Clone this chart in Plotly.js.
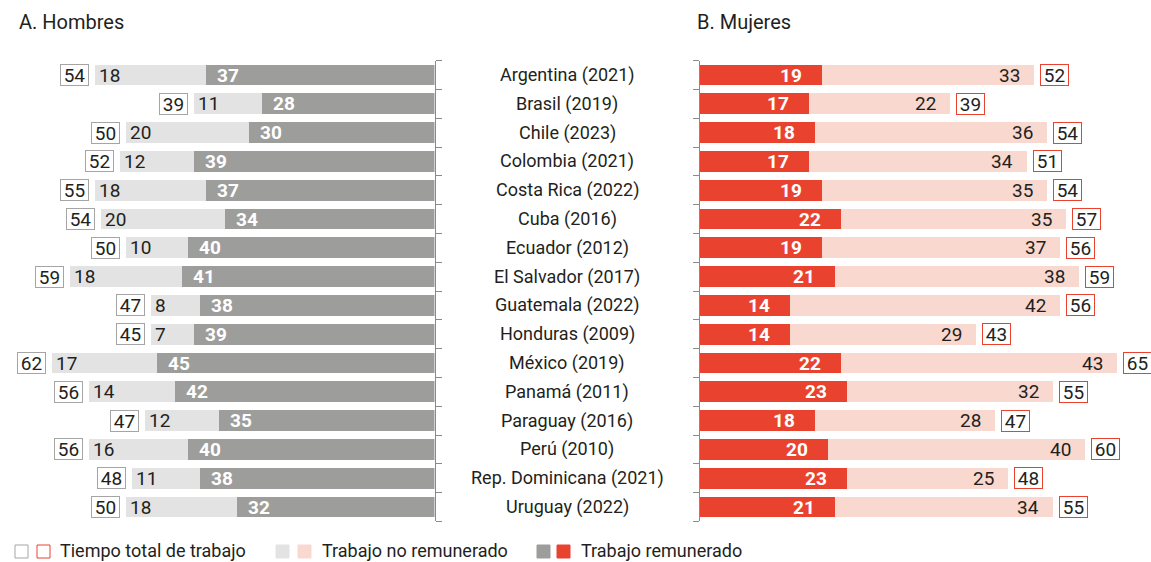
<!DOCTYPE html>
<html><head><meta charset="utf-8">
<script src="https://cdn.plot.ly/plotly-3.0.1.min.js"></script>
<style>html,body{margin:0;padding:0;background:#fff}#chart{width:1151px;height:562px}</style>
</head><body><div id="chart"></div>
<script>
const categories = ["Argentina (2021)","Brasil (2019)","Chile (2023)","Colombia (2021)","Costa Rica (2022)","Cuba (2016)","Ecuador (2012)","El Salvador (2017)","Guatemala (2022)","Honduras (2009)","México (2019)","Panamá (2011)","Paraguay (2016)","Perú (2010)","Rep. Dominicana (2021)","Uruguay (2022)"];
const menPaid   = [37,28,30,39,37,34,40,41,38,39,45,42,35,40,38,32];
const menUnpaid = [18,11,20,12,18,20,10,18,8,7,17,14,12,16,11,18];
const menTotal  = [54,39,50,52,55,54,50,59,47,45,62,56,47,56,48,50];
const womenPaid   = [19,17,18,17,19,22,19,21,14,14,22,23,18,20,23,21];
const womenUnpaid = [33,22,36,34,35,35,37,38,42,29,43,32,28,40,25,34];
const womenTotal  = [52,39,54,51,54,57,56,59,56,43,65,55,47,60,48,55];
const legendLabels = ["Tiempo total de trabajo","Trabajo no remunerado","Trabajo remunerado"];
const panelTitles = ["A. Hombres","B. Mujeres"];

const W = 1151, H = 562;
const FONT = "Roboto, sans-serif";
const C = {menPaid:"#9d9d9c", menUnpaid:"#e3e3e3", womenPaid:"#e94330", womenUnpaid:"#f9d8cf", menBox:"#a5a5a5", womenBox:"#e94330", text:"#231f20"};
const px = x => x / W, py = y => 1 - y / H;
const idx = categories.map((_, i) => i);
const R = 70;
const leftAxis = 434.5, leftScale = 6.17, rightAxis = 699.5, rightScale = 6.43;
const yTop = 60.6, yBot = 521.4;
const FS = 19;

const traces = [
  {type:"bar", orientation:"h", y:idx, x:menPaid, marker:{color:C.menPaid}, xaxis:"x", yaxis:"y", width:0.72},
  {type:"bar", orientation:"h", y:idx, x:menUnpaid, marker:{color:C.menUnpaid}, xaxis:"x", yaxis:"y", width:0.72},
  {type:"bar", orientation:"h", y:idx, x:womenPaid, marker:{color:C.womenPaid}, xaxis:"x2", yaxis:"y2", width:0.72},
  {type:"bar", orientation:"h", y:idx, x:womenUnpaid, marker:{color:C.womenUnpaid}, xaxis:"x2", yaxis:"y2", width:0.72}
];

const ann = [];
const f = (size, color, weight) => ({family:FONT, size:size, color:color, weight:weight||"normal"});
idx.forEach(i => {
  const mEnd = menPaid[i] + menUnpaid[i];
  const wEnd = womenPaid[i] + womenUnpaid[i];
  ann.push({xref:"x", yref:"y", x:menPaid[i], y:i, text:String(menPaid[i]), showarrow:false, xanchor:"left", xshift:9, font:f(FS,"#fff","bold")});
  ann.push({xref:"x", yref:"y", x:mEnd, y:i, text:String(menUnpaid[i]), showarrow:false, xanchor:"left", xshift:2, font:f(FS,C.text)});
  ann.push({xref:"x", yref:"y", x:mEnd, y:i, text:String(menTotal[i]), showarrow:false, xanchor:"right", xshift:-6, width:27, height:20, align:"center", font:f(FS,C.text), bordercolor:C.menBox, borderwidth:1, borderpad:0, bgcolor:"#fff"});
  ann.push({xref:"x2", yref:"y2", x:womenPaid[i], y:i, text:String(womenPaid[i]), showarrow:false, xanchor:"right", xshift:-18, font:f(FS,"#fff","bold")});
  ann.push({xref:"x2", yref:"y2", x:wEnd, y:i, text:String(womenUnpaid[i]), showarrow:false, xanchor:"right", xshift:-12, font:f(FS,C.text)});
  ann.push({xref:"x2", yref:"y2", x:wEnd, y:i, text:String(womenTotal[i]), showarrow:false, xanchor:"left", xshift:6, width:27, height:20, align:"center", font:f(FS,C.text), bordercolor:C.womenBox, borderwidth:1, borderpad:0, bgcolor:"#fff"});
  ann.push({xref:"paper", yref:"y", x:px(567), y:i, text:categories[i], showarrow:false, xanchor:"center", font:f(18,C.text)});
});
ann.push({xref:"paper", yref:"paper", x:px(17), y:py(22), text:panelTitles[0], showarrow:false, xanchor:"left", yanchor:"middle", font:f(20,C.text)});
ann.push({xref:"paper", yref:"paper", x:px(695), y:py(22), text:panelTitles[1], showarrow:false, xanchor:"left", yanchor:"middle", font:f(20,C.text)});

const shapes = [];
const sq = (x, fill, line) => shapes.push({type:"rect", xref:"paper", yref:"paper", x0:px(x), x1:px(x+13), y0:py(558), y1:py(545), fillcolor:fill, line:{color:line, width:1}});
sq(15, "#fff", C.menBox); sq(37, "#fff", C.womenBox);
sq(276, C.menUnpaid, C.menUnpaid); sq(298, C.womenUnpaid, C.womenUnpaid);
sq(537, C.menPaid, C.menPaid); sq(557, C.womenPaid, C.womenPaid);
[[58,0],[320,1],[579,2]].forEach(([x,k]) => ann.push({xref:"paper", yref:"paper", x:px(x), y:py(550), text:legendLabels[k], showarrow:false, xanchor:"left", yanchor:"middle", font:f(18,C.text)}));

const bounds = []; for (let b = -0.5; b <= categories.length - 0.5; b++) bounds.push(b);
const yCommon = {range:[categories.length - 0.5, -0.5], tickvals:bounds, ticks:"outside", ticklen:6, tickcolor:"#8a8a8a", showticklabels:false, showline:true, linecolor:"#8a8a8a", linewidth:1, showgrid:false, zeroline:false, fixedrange:true, domain:[py(yBot), py(yTop)]};
const layout = {
  width:W, height:H, margin:{l:0,r:0,t:0,b:0}, paper_bgcolor:"#fff", plot_bgcolor:"rgba(0,0,0,0)",
  showlegend:false, barmode:"stack", bargap:0.28, hovermode:false,
  xaxis:{range:[R,0], domain:[px(leftAxis - R*leftScale), px(leftAxis)], visible:false, fixedrange:true},
  yaxis:Object.assign({}, yCommon, {anchor:"x", side:"right"}),
  xaxis2:{range:[0,R], domain:[px(rightAxis), px(rightAxis + R*rightScale)], visible:false, fixedrange:true},
  yaxis2:Object.assign({}, yCommon, {anchor:"x2", side:"left"}),
  annotations:ann, shapes:shapes
};
Plotly.newPlot("chart", traces, layout, {displayModeBar:false, staticPlot:true});
</script></body></html>
